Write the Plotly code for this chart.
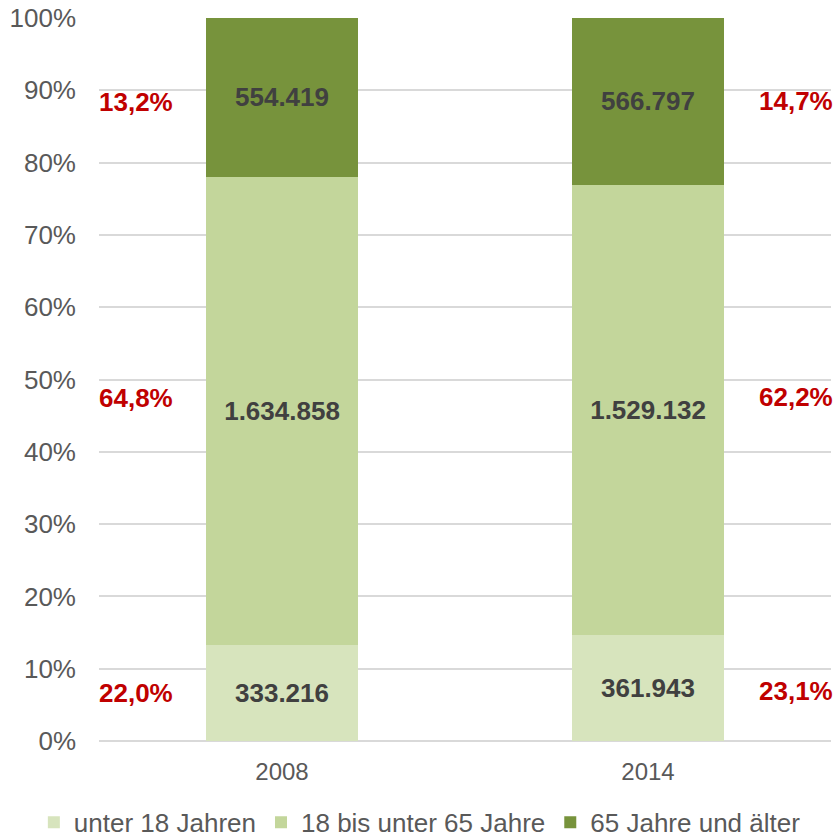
import numpy as np
import plotly.graph_objects as go

years = ["2008", "2014"]
series_names = ["unter 18 Jahren", "18 bis unter 65 Jahre", "65 Jahre und älter"]
under18 = [333216, 361943]
age18_65 = [1634858, 1529132]
over65 = [554419, 566797]
value_labels = [["333.216", "361.943"], ["1.634.858", "1.529.132"], ["554.419", "566.797"]]
# red share labels as printed in the original chart (bottom, middle, top)
share_labels = [["22,0%", "23,1%"], ["64,8%", "62,2%"], ["13,2%", "14,7%"]]
colors = ["#D7E4BD", "#C3D69B", "#77933C"]

series = [under18, age18_65, over65]

fig = go.Figure()
for name, vals, txt, col in zip(series_names, series, value_labels, colors):
    fig.add_trace(go.Bar(
        x=years, y=vals, name=name, marker=dict(color=col, line=dict(width=0)),
        text=[f"<b>{t}</b>" for t in txt], textposition="inside", insidetextanchor="middle",
        textangle=0, textfont=dict(family="Liberation Sans, Arial", size=26, color="#404040"),
        width=0.415, hoverinfo="skip",
    ))

arr = np.array(series, dtype=float)
pct = arr / arr.sum(axis=0) * 100
cum = np.cumsum(pct, axis=0)
mids = cum - pct / 2
label_x = [-0.4, 1.405]
row_shift = [[0, -3], [13, 13], [-5, 0]]
for i in range(3):
    for j in range(2):
        fig.add_annotation(
            x=label_x[j], y=mids[i][j], xref="x", yref="y", text=f"<b>{share_labels[i][j]}</b>",
            showarrow=False, yshift=row_shift[i][j],
            font=dict(family="Liberation Sans, Arial", size=26, color="#C00000"),
        )

fig.update_layout(
    barmode="stack", barnorm="percent",
    width=836, height=837,
    margin=dict(l=99, r=5, t=18, b=96, autoexpand=False),
    plot_bgcolor="white", paper_bgcolor="white",
    font=dict(family="Liberation Sans, Arial", color="#595959"),
    legend=dict(orientation="h", x=-0.089, xanchor="left", y=-0.080, yanchor="top",
                font=dict(size=26, color="#595959"), traceorder="normal", itemwidth=30),
    bargap=0.585,
)
fig.update_xaxes(type="category", range=[-0.5, 1.5], showline=False, ticks="",
                 tickfont=dict(size=24, color="#595959"), ticklabelstandoff=14)
fig.update_yaxes(range=[0, 100], dtick=10, ticksuffix="%", showgrid=True, gridcolor="#D9D9D9",
                 gridwidth=1.5, zeroline=True, zerolinecolor="#D9D9D9", zerolinewidth=1.5,
                 tickfont=dict(size=26, color="#595959"), ticks="", ticklabelstandoff=22)

fig.write_html("out.html", config={"displayModeBar": False},
               post_script="document.body.style.margin='0';document.body.style.overflow='hidden';")
